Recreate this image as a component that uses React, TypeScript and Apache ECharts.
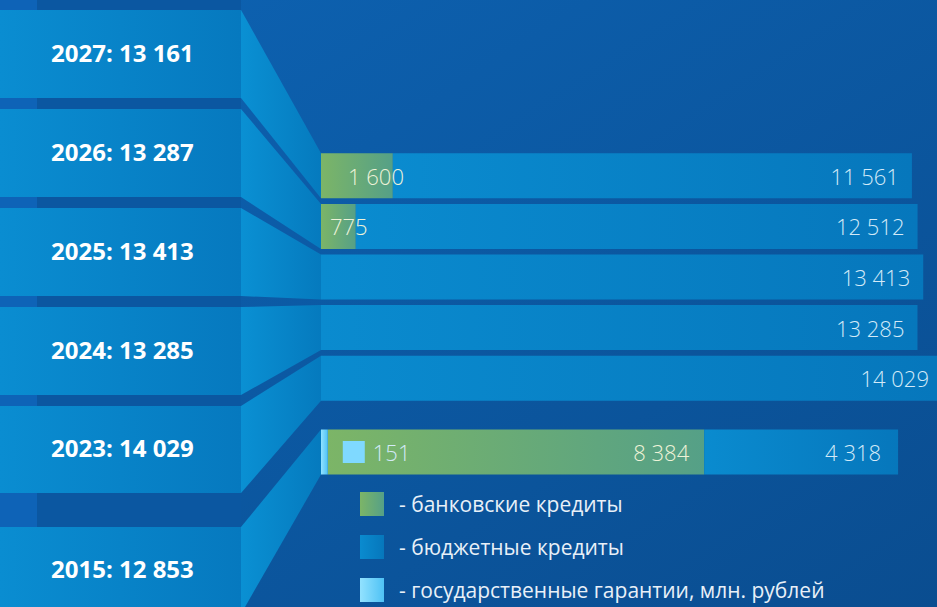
import React, { useEffect, useRef } from 'react';
import * as echarts from 'echarts';

// ---- data ----
const years = ['2027', '2026', '2025', '2024', '2023'];
const bankLoans = [1600, 775, 0, 0, 0];
const budgetLoans = [11561, 12512, 13413, 13285, 14029];
const baseYear = ['2015'];
const baseGuarantees = [151];
const baseBank = [8384];
const baseBudget = [4318];
const seriesNames = [
  'банковские кредиты',
  'бюджетные кредиты',
  'государственные гарантии, млн. рублей',
];

const fmt = (n: number) => String(n).replace(/\B(?=(\d{3})+(?!\d))/g, ' ');

// ---- layout constants ----
const W = 937;
const H = 607;
const BAR_LEFT = 321;
const BLOCK_RIGHT = 241;
const X_MAX = 13720;
const G1_TOP = 150.5;
const ROW = 50.6;
const BAR_W = 45;
const G2_TOP = 428;

const lin = (a: string, b: string) => ({
  type: 'linear', x: 0, y: 0, x2: 1, y2: 0,
  colorStops: [{ offset: 0, color: a }, { offset: 1, color: b }],
});

const bankColor = lin('#7cb567', '#55a087');
const budgetColor = lin('#0a8bcf', '#0677bc');
const guarColor = lin('#92e2ff', '#4fc2f5');
const blockFill = lin('#0a8dd1', '#0679bf');
const connFill = lin('#0a90d3', '#057abe');

// left blocks (y ranges)
const blocks: [number, number][] = [
  [10, 98], [109, 197], [208, 296], [307, 395], [406, 493], [527, 640],
];

export default function App() {
  const ref = useRef<HTMLDivElement>(null);
  useEffect(() => {
    document.body.style.margin = '0';
    const chart = echarts.init(ref.current!, undefined, { renderer: 'svg' });

    const allYears = [...years, ...baseYear];
    const totals = [
      ...years.map((_, i) => bankLoans[i] + budgetLoans[i]),
      baseGuarantees[0] + baseBank[0] + baseBudget[0],
    ];
    const barRects = [
      ...years.map((_, i) => {
        const c = G1_TOP + ROW * (i + 0.5);
        return [c - BAR_W / 2, c + BAR_W / 2];
      }),
      [G2_TOP + 24 - BAR_W / 2, G2_TOP + 24 + BAR_W / 2],
    ];

    const graphics: any[] = [];
    const gaps: [number, number][] = [[0, 10]];
    for (let i = 0; i < blocks.length - 1; i++) gaps.push([blocks[i][1], blocks[i + 1][0]]);
    gaps.forEach(([a, b]) => {
      graphics.push({ type: 'rect', shape: { x: 0, y: a, width: 37, height: b - a }, style: { fill: '#0e63b7' }, silent: true });
      graphics.push({ type: 'rect', shape: { x: 37, y: a, width: BLOCK_RIGHT - 37, height: b - a }, style: { fill: '#0b57a1' }, silent: true });
    });
    blocks.forEach(([a, b], i) => {
      graphics.push({ type: 'rect', shape: { x: 0, y: a, width: BLOCK_RIGHT, height: b - a }, style: { fill: blockFill }, silent: true });
      const [t, bt] = barRects[i];
      const lb = i === blocks.length - 1 ? 614 : b;
      graphics.push({
        type: 'polygon',
        shape: { points: [[BLOCK_RIGHT, a], [BAR_LEFT, t], [BAR_LEFT, bt], [BLOCK_RIGHT, lb]] },
        style: { fill: connFill },
        silent: true,
      });
      const cy = i === blocks.length - 1 ? 568 : (a + b) / 2 - 2;
      graphics.push({
        type: 'text',
        x: 51, y: cy,
        style: {
          text: `${allYears[i]}: ${fmt(totals[i])}`,
          fill: '#ffffff',
          font: '700 24px "Open Sans"',
          verticalAlign: 'middle',
        },
        silent: true,
      });
    });

    const valLabel = {
      show: true,
      fontFamily: 'Open Sans',
      fontWeight: 300,
      fontSize: 22,
    };
    const bankLabelDist = [27, 9, 0, 0, 0];
    const budgetLabelDist = [13, 13, 13, 13, 8];

    chart.setOption({
      animation: false,
      backgroundColor: {
        type: 'linear', x: 0, y: 0, x2: 1, y2: 1,
        colorStops: [{ offset: 0, color: '#0d63b3' }, { offset: 1, color: '#0a4d90' }],
      },
      graphic: graphics,
      grid: [
        { left: BAR_LEFT, right: 0, top: G1_TOP, height: ROW * 5 },
        { left: BAR_LEFT, right: 0, top: G2_TOP, height: 48 },
      ],
      xAxis: [
        { type: 'value', gridIndex: 0, min: 0, max: X_MAX, show: false },
        { type: 'value', gridIndex: 1, min: 0, max: X_MAX, show: false },
      ],
      yAxis: [
        { type: 'category', gridIndex: 0, data: years, inverse: true, show: false },
        { type: 'category', gridIndex: 1, data: baseYear, inverse: true, show: false },
      ],
      legend: {
        orient: 'vertical',
        left: 360,
        top: 492,
        height: 140,
        padding: 0,
        itemWidth: 24,
        itemHeight: 24,
        itemGap: 19,
        icon: 'rect',
        data: seriesNames,
        selectedMode: false,
        formatter: (n: string) => '- ' + n,
        textStyle: {
          color: '#e8f0f8',
          fontFamily: 'Open Sans',
          fontSize: 21,
          padding: [0, 0, 0, 10],
        },
      },
      series: [
        {
          name: seriesNames[0], type: 'bar', stack: 'a', xAxisIndex: 0, yAxisIndex: 0,
          barWidth: BAR_W,
          itemStyle: { color: bankColor },
          data: bankLoans.map((v, i) => ({ value: v, label: { distance: bankLabelDist[i] } })),
          label: {
            ...valLabel, position: 'insideLeft', color: '#eef3d8',
            formatter: (p: any) => (p.value ? fmt(p.value) : ''),
          },
        },
        {
          name: seriesNames[1], type: 'bar', stack: 'a', xAxisIndex: 0, yAxisIndex: 0,
          barWidth: BAR_W,
          itemStyle: { color: budgetColor },
          data: budgetLoans.map((v, i) => ({ value: v, label: { distance: budgetLabelDist[i] } })),
          label: {
            ...valLabel, position: 'insideRight', color: '#d3eaf8',
            formatter: (p: any) => fmt(p.value),
          },
        },
        {
          name: seriesNames[2], type: 'bar', stack: 'b', xAxisIndex: 1, yAxisIndex: 1,
          barWidth: BAR_W,
          itemStyle: { color: guarColor },
          data: baseGuarantees,
          z: 3,
          label: {
            ...valLabel, position: 'right', distance: 15, color: '#d3eaf8',
            formatter: (p: any) => `{box|}{t|${fmt(p.value)}}`,
            rich: {
              box: { width: 22, height: 22, backgroundColor: '#7fd9ff' },
              t: { fontFamily: 'Open Sans', fontWeight: 300, fontSize: 22, color: '#d3eaf8', padding: [0, 0, 0, 8] },
            },
          },
        },
        {
          name: seriesNames[0], type: 'bar', stack: 'b', xAxisIndex: 1, yAxisIndex: 1,
          barWidth: BAR_W,
          itemStyle: { color: bankColor },
          data: baseBank,
          label: {
            ...valLabel, position: 'insideRight', distance: 15, color: '#eef3d8',
            formatter: (p: any) => fmt(p.value),
          },
        },
        {
          name: seriesNames[1], type: 'bar', stack: 'b', xAxisIndex: 1, yAxisIndex: 1,
          barWidth: BAR_W,
          itemStyle: { color: budgetColor },
          data: baseBudget,
          label: {
            ...valLabel, position: 'insideRight', distance: 17, color: '#d3eaf8',
            formatter: (p: any) => fmt(p.value),
          },
        },
      ],
    });
    return () => chart.dispose();
  }, []);
  return <div ref={ref} style={{ width: W, height: H }} />;
}
